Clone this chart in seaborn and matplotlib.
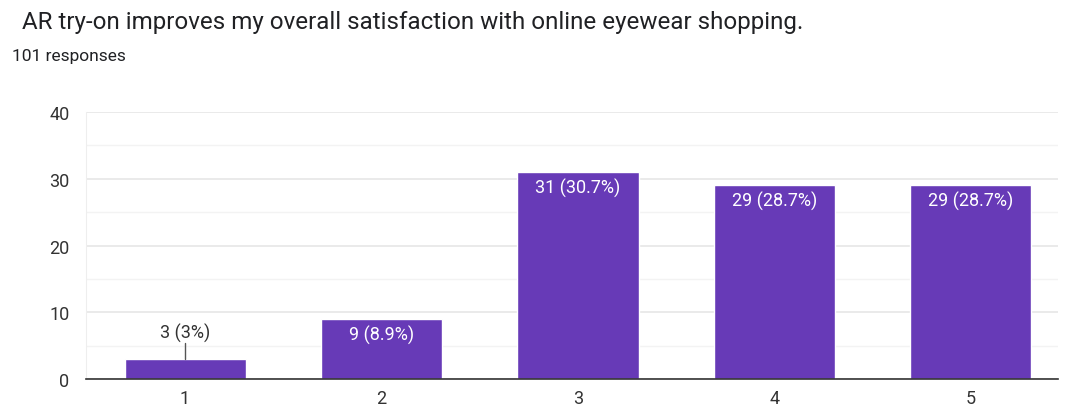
import matplotlib
matplotlib.use("Agg")
import matplotlib.pyplot as plt
import seaborn as sns
import pandas as pd

categories = ["1", "2", "3", "4", "5"]
counts = [3, 9, 31, 29, 29]
labels = ["3 (3%)", "9 (8.9%)", "31 (30.7%)", "29 (28.7%)", "29 (28.7%)"]
title = "AR try-on improves my overall satisfaction with online eyewear shopping."
subtitle = "101 responses"

sns.set_style("white")
plt.rcParams["font.family"] = ["Roboto", "DejaVu Sans"]

purple = "#673AB7"
df = pd.DataFrame({"cat": categories, "count": counts})

fig = plt.figure(figsize=(10.7, 4.1), dpi=100)
ax = fig.add_axes([86 / 1070, 1 - 380 / 410, (1058 - 86) / 1070, (380 - 113) / 410])

sns.barplot(data=df, x="cat", y="count", color=purple, width=0.616, saturation=1, ax=ax, zorder=3)

ax.set_ylim(0, 40)
ax.set_xlim(-0.504, 4.443)
ax.set_yticks([0, 10, 20, 30, 40])
ax.set_yticks([5, 15, 25, 35], minor=True)
ax.grid(axis="y", which="major", color="#e6e6e6", linewidth=1.2, zorder=0)
ax.grid(axis="y", which="minor", color="#f3f3f3", linewidth=1.0, zorder=0)
ax.set_xlabel("")
ax.set_ylabel("")
for s in ["top", "right"]:
    ax.spines[s].set_visible(False)
ax.spines["left"].set_color("#eeeeee")
ax.spines["bottom"].set_color("#333333")
ax.spines["bottom"].set_linewidth(1.2)
ax.spines["bottom"].set_zorder(4)
ax.tick_params(axis="both", which="both", length=0, labelsize=13, labelcolor="#333333")
ax.tick_params(axis="y", pad=12)
ax.tick_params(axis="x", pad=7)

for i, (v, lab) in enumerate(zip(counts, labels)):
    if v < 6:
        ax.plot([i, i], [v, v + 2.4], color="#555555", linewidth=1, zorder=4)
        ax.text(i, v + 2.6, lab, ha="center", va="bottom", fontsize=13, color="#333333")
    else:
        ax.annotate(lab, (i, v), xytext=(0, -4), textcoords="offset points",
                    ha="center", va="top", fontsize=13, color="white", zorder=5)

fig.text(22 / 1070, 1 - 23 / 410, title, ha="left", va="center", fontsize=17.4, color="#202124")
fig.text(12 / 1070, 1 - 56 / 410, subtitle, ha="left", va="center", fontsize=12.5, color="#202124")

fig.savefig("out.png", dpi=100, facecolor="white")
